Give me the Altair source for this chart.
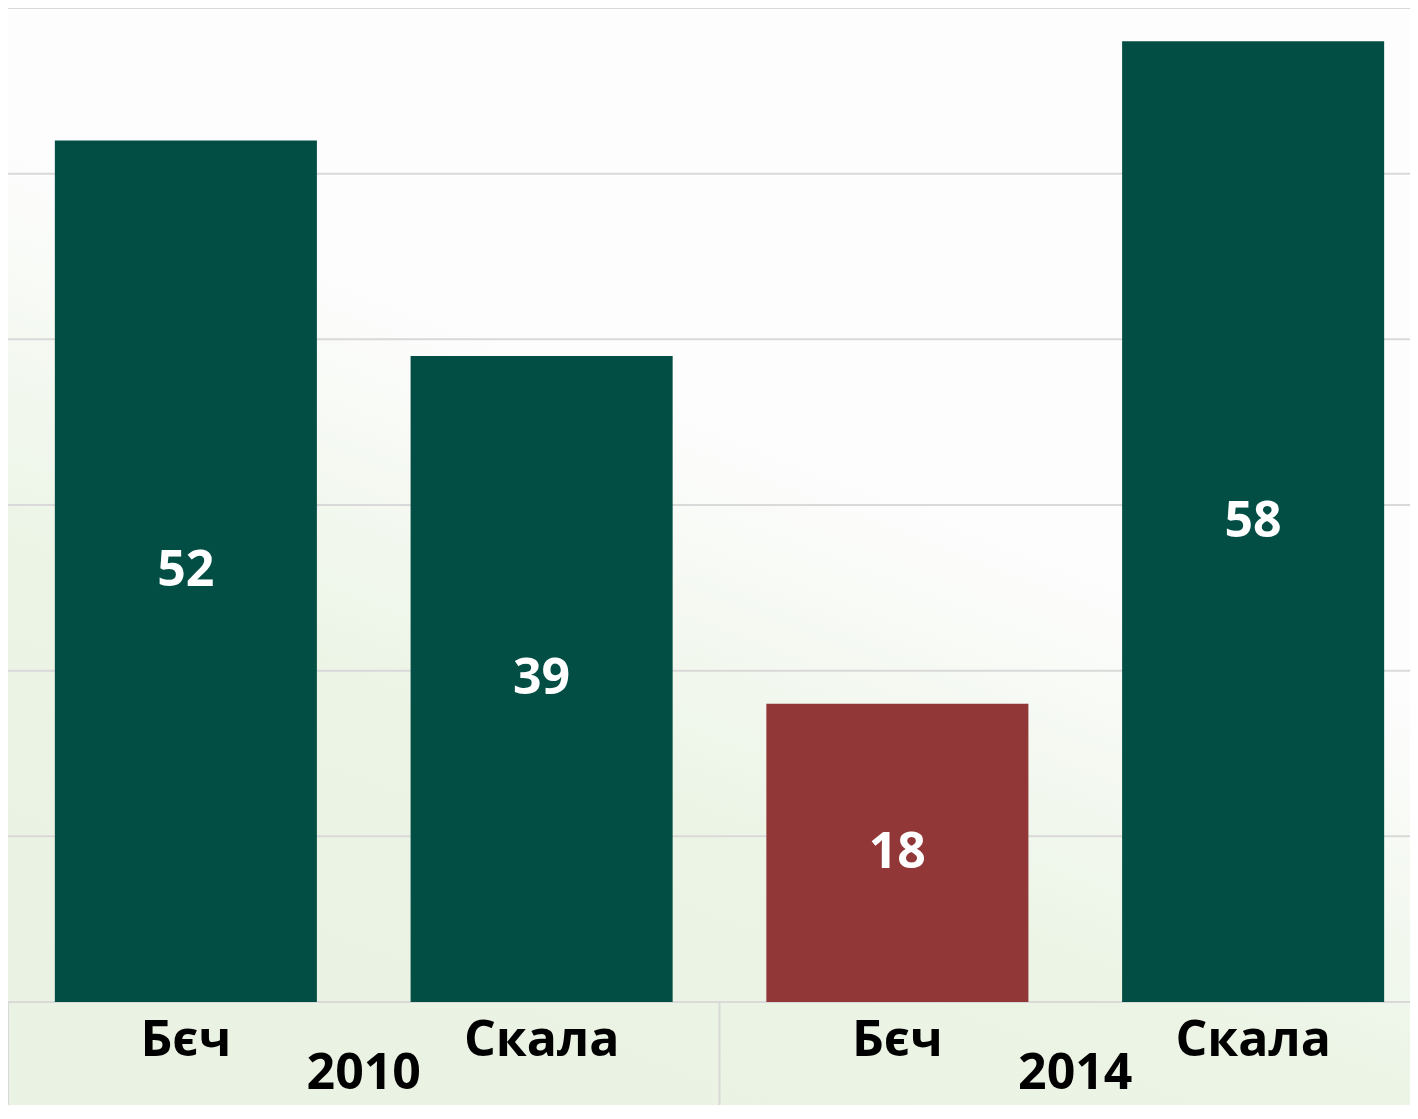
import altair as alt
import pandas as pd

years = ["2010", "2010", "2014", "2014"]
cities = ["Б\u0454ч", "Скала", "Б\u0454ч", "Скала"]
values = [52, 39, 18, 58]
group_years = ["2010", "2014"]
grid_ticks = [0, 10, 20, 30, 40, 50, 60]

keys = [f"{y}|{c}" for y, c in zip(years, cities)]
df = pd.DataFrame({"year": years, "city": cities, "value": values, "key": keys})
df_years = pd.DataFrame({"year": group_years, "key": [f"{y}|Скала" for y in group_years]})
df_sep = pd.DataFrame({"key": [f"{y}|{cities[0]}" for y in group_years]})
df_grid = pd.DataFrame({"tick": grid_ticks})
df_one = pd.DataFrame({"a": [0]})

W, H = 1402, 994
PB = 103
FONT = "Open Sans"
GREEN = "#034e44"
RED = "#913737"
HIGHLIGHT = f"2014|{cities[0]}"

xscale = alt.Scale(domain=keys, range=[0, 1423], paddingInner=0, paddingOuter=0)
yscale = alt.Scale(domain=[0, 60], nice=False, zero=True)

grad = alt.LinearGradient(
    gradient="linear",
    stops=[alt.GradientStop(color="#fdfdfd", offset=0),
           alt.GradientStop(color="#fdfdfd", offset=0.42),
           alt.GradientStop(color="#ebf4e5", offset=0.72),
           alt.GradientStop(color="#e9f2e3", offset=1)],
    x1=0.8, y1=0.0, x2=0.3, y2=1.0,
)

bg = alt.Chart(df_one).mark_rect(fill=grad).encode(
    x=alt.value(0), x2=alt.value(W), y=alt.value(0), y2=alt.value(H + PB)
)

grid = alt.Chart(df_grid).mark_rule(color="#d9d9d9", strokeWidth=2).encode(
    y=alt.Y("tick:Q", scale=yscale, axis=None),
    x=alt.value(0), x2=alt.value(W),
)

sep = alt.Chart(df_sep).mark_rule(color="#d9d9d9", strokeWidth=2).encode(
    x=alt.X("key:N", scale=xscale, axis=None, bandPosition=0),
    y=alt.value(H), y2=alt.value(H + PB),
)

bars = alt.Chart(df).mark_bar(width=alt.RelativeBandSize(0.7366)).encode(
    x=alt.X("key:N", scale=xscale, axis=None),
    y=alt.Y("value:Q", scale=yscale, axis=None),
    color=alt.condition(alt.datum.key == HIGHLIGHT, alt.value(RED), alt.value(GREEN)),
)

vals = alt.Chart(df).transform_calculate(mid="datum.value / 2").mark_text(
    font=FONT, fontSize=50, fontWeight="bold", color="white", baseline="middle"
).encode(
    x=alt.X("key:N", scale=xscale, axis=None),
    y=alt.Y("mid:Q", scale=yscale, axis=None),
    text="value:Q",
)

cats = alt.Chart(df).mark_text(
    font=FONT, fontSize=50, fontWeight="bold", color="black", baseline="alphabetic"
).encode(
    x=alt.X("key:N", scale=xscale, axis=None),
    y=alt.value(H + 54),
    text="city:N",
)

yrs = alt.Chart(df_years).mark_text(
    font=FONT, fontSize=50, fontWeight="bold", color="black", baseline="alphabetic"
).encode(
    x=alt.X("key:N", scale=xscale, axis=None, bandPosition=0),
    y=alt.value(H + PB - 16),
    text="year:N",
)

chart = alt.layer(bg, grid, sep, bars, vals, cats, yrs).properties(
    width=W, height=H,
    autosize=alt.AutoSizeParams(type="none"),
    padding={"left": 0, "top": 0, "right": 0, "bottom": PB},
    background="#ebf4e5",
).configure_view(stroke=None)

chart.save("out.html", embed_options={"renderer": "svg", "actions": False})
